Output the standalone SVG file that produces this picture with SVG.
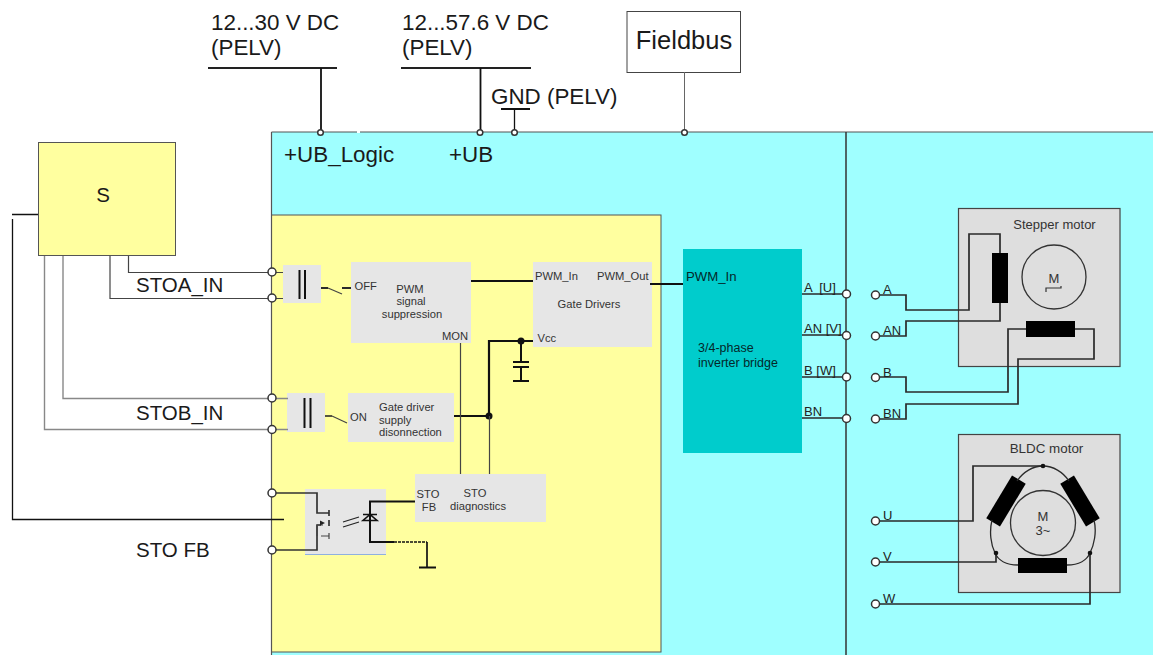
<svg xmlns="http://www.w3.org/2000/svg" width="1153" height="655" viewBox="0 0 1153 655">
<style>
text{font-family:"Liberation Sans",Arial,sans-serif;fill:#1a1a1a}
.big{font-size:22.4px}.mid{font-size:20.5px}.sm{font-size:11.2px;fill:#333}.pin{font-size:11.200px;fill:#333}
.lb{font-size:13px;fill:#222}
.c{text-anchor:middle}
.w{fill:none;stroke:#444;stroke-width:1.2}
.t{fill:none;stroke:#111;stroke-width:2.2}
.k{fill:none;stroke:#2a2a2a;stroke-width:1.7}
.g{fill:#e6e6e6}
.o{fill:#fff;stroke:#333;stroke-width:1.5}
.m{fill:#dedede;stroke:#444;stroke-width:1.2}
</style>
<rect width="1153" height="655" fill="#fff"/>
<rect x="271" y="132" width="882" height="523" fill="#9fffff"/>
<g id="sto-block"><rect x="271.500" y="215" width="389.500" height="437" fill="#ffff9f" stroke="#555" stroke-width="1"/></g>
<path d="M271.500 132H1153M271.500 132V655" fill="none" stroke="#555" stroke-width="1.200"/>
<path d="M846 132V655" fill="none" stroke="#333" stroke-width="1.500"/>
<path d="M357 132h3" stroke="#fff" stroke-width="2"/>

<g id="supply-logic"><text class="big" x="211" y="30">12...30 V DC</text><text class="big" x="211" y="55">(PELV)</text><path d="M208 68H337" stroke="#222" stroke-width="2"/></g>
<g id="supply-ub"><text class="big" x="402" y="30">12...57.6 V DC</text><text class="big" x="402" y="55">(PELV)</text><path d="M401 68H531" stroke="#222" stroke-width="2"/></g>
<g id="gnd"><text class="big" x="491" y="104">GND (PELV)</text><path d="M501 109H530" stroke="#111" stroke-width="2"/></g>
<g id="fieldbus"><rect x="627" y="11.500" width="113.500" height="61" fill="#fff" stroke="#444" stroke-width="1"/><text class="c" x="684" y="49" style="font-size:25.500px">Fieldbus</text></g>
<text class="big" x="284" y="162">+UB_Logic</text><text class="big" x="449" y="162">+UB</text>

<g id="sensor"><rect x="38.500" y="142.500" width="137" height="113" fill="#ffff9f" stroke="#555" stroke-width="1"/><text class="mid c" x="103" y="202">S</text></g>

<g id="coupler-a"><rect x="283" y="265" width="38" height="38" class="g"/><path d="M299.500 270V299M305 270V299" stroke="#111" stroke-width="2"/></g>
<g id="coupler-b"><rect x="287" y="393" width="38" height="39" class="g"/><path d="M304.500 398V428M310.500 398V428" stroke="#111" stroke-width="2"/></g>
<g id="pwm-suppression"><rect x="351" y="262" width="120" height="81" class="g"/><text class="sm c" x="410" y="293">PWM</text><text class="sm c" x="411" y="305">signal</text><text class="sm c" x="412" y="317.500">suppression</text><text class="pin" x="354.500" y="290">OFF</text><text class="pin" x="442" y="340">MON</text></g>
<g id="gate-drivers"><rect x="533" y="262" width="119" height="85" class="g"/><text class="sm c" x="589" y="308">Gate Drivers</text><text class="pin" x="535" y="280">PWM_In</text><text class="pin" x="597" y="280">PWM_Out</text><text class="pin" x="537.500" y="342">Vcc</text></g>
<g id="supply-disconnect"><rect x="348" y="393" width="106" height="49" class="g"/><text class="sm" x="379" y="411">Gate driver</text><text class="sm" x="379" y="424">supply</text><text class="sm" x="379" y="436">disonnection</text><text class="pin" x="350" y="421">ON</text></g>
<g id="sto-diagnostics"><rect x="415" y="474" width="131" height="48" class="g"/><text class="sm c" x="428" y="498">STO</text><text class="sm c" x="429" y="510.500">FB</text><text class="sm c" x="475" y="497">STO</text><text class="sm c" x="478" y="510">diagnostics</text></g>
<g id="optocoupler"><rect x="305" y="489" width="81" height="66" class="g"/><path d="M305 554.500H386" stroke="#8fb0e0" stroke-width="1"/></g>
<g id="inverter"><rect x="683" y="249" width="119" height="204" fill="#00cccc"/><text x="686" y="281" style="font-size:13.200px;fill:#04282a">PWM_In</text><text x="698" y="352" style="font-size:12.500px;fill:#04282a">3/4-phase</text><text x="698" y="367" style="font-size:12.500px;fill:#04282a">inverter bridge</text></g>
<g id="stepper"><rect x="958.500" y="208.500" width="161.500" height="158" class="m"/><text class="sm c" x="1054.500" y="229" style="font-size:13px">Stepper motor</text><circle cx="1054" cy="277" r="32" fill="none" stroke="#333" stroke-width="1.300"/><text class="sm c" x="1054" y="283" style="font-size:13px">M</text><path d="M1046 292V288H1061V286" fill="none" stroke="#333" stroke-width="1.200"/><rect x="992" y="253" width="16" height="50" fill="#000"/><rect x="1026" y="321" width="49" height="16" fill="#000"/></g>
<g id="bldc"><rect x="958.500" y="434.500" width="161.500" height="158" class="m"/><text class="sm c" x="1046.500" y="453" style="font-size:13.400px">BLDC motor</text><circle cx="1043" cy="523" r="32.500" fill="none" stroke="#333" stroke-width="1.300"/><text class="sm c" x="1043" y="521" style="font-size:13px">M</text><text class="sm c" x="1043" y="535" style="font-size:13px">3~</text><rect x="1018" y="558" width="49" height="15" fill="#000"/><rect x="-8" y="-25" width="16" height="50" fill="#000" transform="translate(1006 501) rotate(31)"/><rect x="-8" y="-25" width="16" height="50" fill="#000" transform="translate(1080 501) rotate(-31)"/></g>

<g id="connectors">
<path class="t" d="M321 68V132M480.500 68V132" style="stroke-width:1.800"/>
<path class="t" d="M514.500 109V132" style="stroke-width:1.300"/>
<path class="w" style="stroke:#666;stroke-width:1" d="M684.500 72V132"/>
<path class="w" style="stroke:#111;stroke-width:1.300" d="M12 214.500H38M12.500 219V519.500H284"/>
<path class="w" d="M128.500 256V272.500H283M110 256V298.500H283"/>
<path class="w" style="stroke:#888;stroke-width:1.400" d="M63 256V398.500H288M44.500 256V429.500H288"/>
<path class="k" d="M321 288H328M342 288H351" style="stroke-width:2"/>
<path class="w" d="M328 288L342 294"/>
<path class="k" d="M325 416H332" style="stroke-width:1.600"/>
<path class="w" d="M332 416L347 423"/>
<path class="t" d="M471 281H533"/>
<path class="t" d="M650 284H683" style="stroke-width:1.800"/>
<path class="t" d="M454 416H489V341H533"/>
<path class="t" d="M521 341V362M513 362H529M513 367H529M521 367V381M513 381H529" style="stroke-width:2"/>
<circle cx="521" cy="341" r="3.500" fill="#111"/><circle cx="489" cy="416" r="3.500" fill="#111"/>
<path class="w" d="M460.500 343V474M489.500 416V474"/>
<path class="k" d="M272 493H317V502V513H329M272 550H317V525H321M329 510V516M329 520V526" style="stroke:#333"/>
<path class="w" d="M317 525H323M321 536H329M329 533V539M317 536V525"/>
<path d="M320 520.500L325 523L320 525.500Z" fill="#222"/>
<path class="t" d="M415 501.500H370V542H394" style="stroke-width:2"/>
<path class="t" d="M394 542H427" style="stroke-width:1.500" stroke-dasharray="3 1"/>
<path class="t" d="M427 542V567" style="stroke-width:1.700"/>
<path d="M419 567.500H436" stroke="#111" stroke-width="2"/>
<path d="M363 514.500H377M363 520.500H377L370 514.500Z" fill="none" stroke="#111" stroke-width="1.600"/>
<path d="M343 522L359 517M343 527L359 522" stroke="#222" stroke-width="1.200"/>
<path class="k" d="M802 294H846M802 335H846M802 377H846M802 418H846"/>
<path class="k" d="M876 295H906V310H969V234H1000V253"/>
<path class="k" d="M876 336H906V321H1000V303"/>
<path class="k" d="M876 377H906V392H1008V329H1026"/>
<path class="k" d="M876 419H906V404H1018V359H1094V329H1075"/>
<path class="k" d="M876 521H973V466H1043"/>
<path class="k" d="M876 562H996V553"/>
<path class="k" d="M876 604H1090V553"/>
<path class="k" d="M1018 565C1006 565 998 560 995 553C991 545 989 532 992 520M1067 565C1079 565 1087 560 1090 553C1094 545 1097 532 1094 520M1017 481C1023 472 1033 466 1043 466C1053 466 1063 472 1069 481" style="stroke-width:1.300"/>
<circle cx="1043" cy="466" r="2.300" fill="#111"/><circle cx="996" cy="553" r="2.300" fill="#111"/><circle cx="1090" cy="553" r="2.300" fill="#111"/>
<g class="o"><circle cx="272" cy="272" r="4"/><circle cx="272" cy="298" r="4"/><circle cx="272" cy="398" r="4"/><circle cx="272" cy="429.500" r="4"/><circle cx="272" cy="493" r="4"/><circle cx="272" cy="550" r="4"/><circle cx="320.500" cy="132.500" r="2.800"/><circle cx="480" cy="132.500" r="2.800"/><circle cx="514.500" cy="132.500" r="2.800"/><circle cx="684.500" cy="132.500" r="2.800"/><circle cx="846.500" cy="294" r="4"/><circle cx="846.500" cy="335.500" r="4"/><circle cx="846.500" cy="377" r="4"/><circle cx="846.500" cy="418.500" r="4"/><circle cx="875.500" cy="295" r="4"/><circle cx="875.500" cy="336" r="4"/><circle cx="875.500" cy="377.500" r="4"/><circle cx="875.500" cy="419" r="4"/><circle cx="875.500" cy="521" r="4"/><circle cx="875.500" cy="562" r="4"/><circle cx="875.500" cy="604" r="4"/></g>
</g>
<g id="labels">
<text class="mid" x="136" y="292">STOA_IN</text><text class="mid" x="136" y="420">STOB_IN</text><text class="mid" x="136" y="557">STO FB</text>
<text class="lb" x="804" y="291.500" xml:space="preserve">A  [U]</text><text class="lb" x="804" y="333">AN [V]</text><text class="lb" x="804" y="375">B [W]</text><text class="lb" x="804" y="416">BN</text>
<text class="lb" x="883" y="293.500">A</text><text class="lb" x="883" y="335">AN</text><text class="lb" x="883" y="376.500">B</text><text class="lb" x="883" y="418">BN</text>
<text class="lb" x="883" y="520">U</text><text class="lb" x="883" y="561">V</text><text class="lb" x="883" y="603">W</text>
</g>
</svg>
